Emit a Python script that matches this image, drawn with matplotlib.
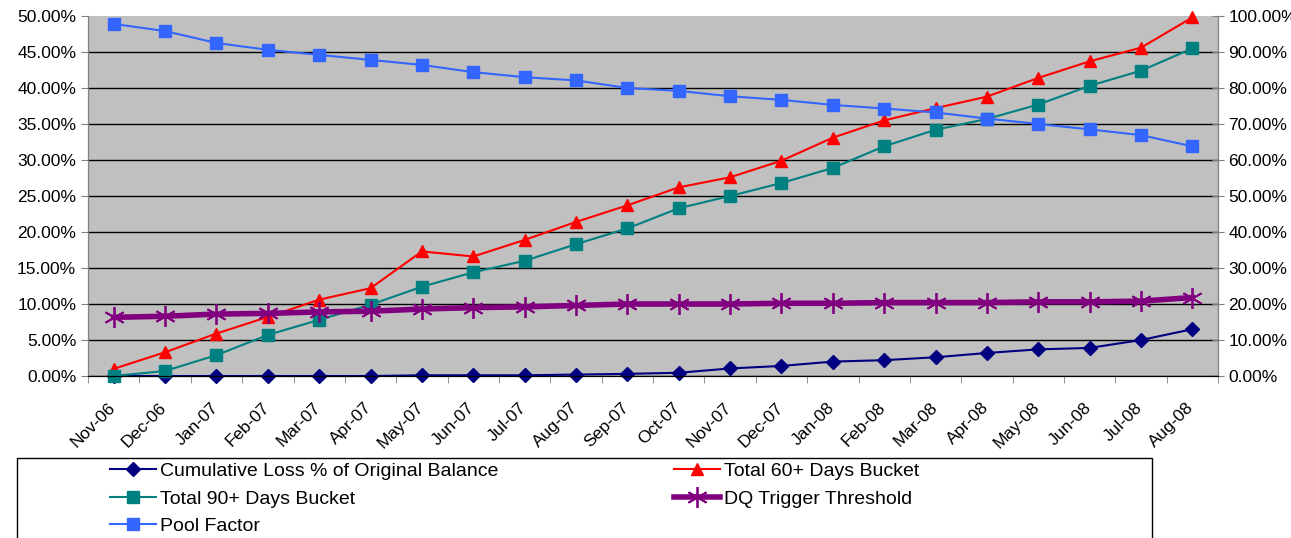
import numpy as np
import matplotlib.pyplot as plt
from matplotlib.patches import Rectangle
from matplotlib.ticker import PercentFormatter
from matplotlib.transforms import ScaledTranslation

plt.rcParams['font.family'] = ['Liberation Sans', 'DejaVu Sans']

months = ["Nov-06", "Dec-06", "Jan-07", "Feb-07", "Mar-07", "Apr-07", "May-07",
          "Jun-07", "Jul-07", "Aug-07", "Sep-07", "Oct-07", "Nov-07", "Dec-07",
          "Jan-08", "Feb-08", "Mar-08", "Apr-08", "May-08", "Jun-08", "Jul-08",
          "Aug-08"]

# values in percent
cum_loss = [0.0, 0.0, 0.0, 0.0, 0.0, 0.0, 0.1, 0.1, 0.1, 0.2, 0.3, 0.45,
            1.05, 1.4, 2.0, 2.2, 2.6, 3.2, 3.7, 3.9, 5.0, 6.5]
bucket60 = [1.0, 3.3, 5.9, 8.2, 10.6, 12.2, 17.3, 16.6, 18.9, 21.4, 23.7, 26.2,
            27.6, 29.9, 33.1, 35.5, 37.2, 38.8, 41.4, 43.7, 45.6, 49.8]
bucket90 = [0.0, 0.7, 2.9, 5.7, 7.8, 9.9, 12.4, 14.4, 16.0, 18.3, 20.5, 23.3,
            25.0, 26.8, 28.9, 31.9, 34.2, 35.7, 37.7, 40.3, 42.4, 45.5]
dq_trigger = [8.15, 8.3, 8.6, 8.7, 8.9, 9.0, 9.3, 9.5, 9.6, 9.8, 10.0, 10.0,
              10.0, 10.1, 10.1, 10.2, 10.2, 10.2, 10.3, 10.3, 10.4, 10.9]
pool_factor = [97.8, 95.8, 92.5, 90.6, 89.2, 87.8, 86.4, 84.4, 83.0, 82.1, 80.0,
               79.2, 77.7, 76.7, 75.3, 74.3, 73.2, 71.5, 70.0, 68.5, 66.9, 63.8]

x = np.arange(len(months))

fig = plt.figure(figsize=(12.91, 5.38), dpi=100)
ax = fig.add_axes([0.0682, 0.3011, 0.8753, 0.6692])
ax.set_facecolor('#C0C0C0')

l_cum, = ax.plot(x, cum_loss, color='#000080', lw=1.5, marker='D', ms=7,
                 clip_on=False)
l_60, = ax.plot(x, bucket60, color='#FF0000', lw=1.5, marker='^', ms=9,
                clip_on=False)
l_90, = ax.plot(x, bucket90, color='#008080', lw=1.5, marker='s', ms=8,
                clip_on=False)
l_dq, = ax.plot(x, dq_trigger, color='#800080', lw=4, marker=(6, 2, 0), ms=15,
                mew=1.3)

ax.set_xlim(-0.5, len(months) - 0.5)
ax.set_ylim(0, 50)
ax.set_yticks(np.arange(0, 51, 5))
ax.yaxis.set_major_formatter(PercentFormatter(decimals=2))
ax.grid(axis='y', color='black', lw=1)
ax.set_axisbelow(True)
ax.get_ygridlines()[-1].set_visible(False)

ax.set_xticks(x)
ax.set_xticklabels(months, rotation=45, ha='right', rotation_mode='anchor')
ax.set_xticks(np.arange(-0.5, len(months)), minor=True)
ax.tick_params(axis='x', which='major', length=0, pad=17, labelsize=12.5)
ax.tick_params(axis='x', which='minor', length=5, color='#808080')
ax.tick_params(axis='y', length=5, color='#808080', labelsize=12.5)
shift = ScaledTranslation(-6 / 100, 0, fig.dpi_scale_trans)
for lab in ax.get_xticklabels():
    lab.set_transform(lab.get_transform() + shift)

ax2 = ax.twinx()
l_pool, = ax2.plot(x, pool_factor, color='#3366FF', lw=1.5, marker='s', ms=9)
ax2.set_ylim(0, 100)
ax2.set_yticks(np.arange(0, 101, 10))
ax2.yaxis.set_major_formatter(PercentFormatter(decimals=2))
ax2.tick_params(axis='y', direction='inout', length=8, color='#808080',
                labelsize=12.5)

for a in (ax, ax2):
    a.spines['top'].set_visible(False)
    a.spines['left'].set_color('#808080')
    a.spines['right'].set_color('#808080')
    a.spines['bottom'].set_color('black')

# legend box
fig.patches.append(Rectangle((17 / 1291, -0.05), 1135 / 1291, 0.05 + 80 / 538,
                             transform=fig.transFigure, fill=False,
                             edgecolor='black', lw=1))
fig.legend([l_cum, l_90, l_pool, l_60, l_dq],
           ["Cumulative Loss % of Original Balance", "Total 90+ Days Bucket",
            "Pool Factor", "Total 60+ Days Bucket", "DQ Trigger Threshold"],
           ncol=2, loc='upper left', bbox_to_anchor=(96 / 1291, 1 - 449 / 538),
           frameon=False, fontsize=14, handlelength=2.4, handletextpad=0.2,
           columnspacing=9.0, labelspacing=0.5, borderpad=0.2)

fig.savefig('out.png', dpi=100)
